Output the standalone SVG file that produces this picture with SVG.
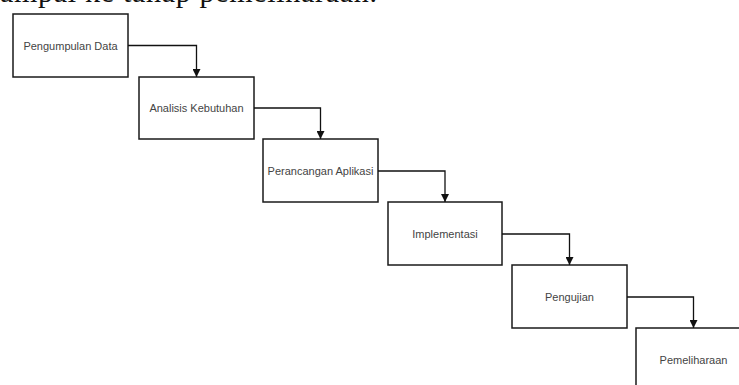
<svg xmlns="http://www.w3.org/2000/svg" width="739" height="385" viewBox="0 0 739 385">
<style>
.box{fill:#fff;stroke:#1a1a1a;stroke-width:1.5}
.lbl{font-family:"Liberation Sans",Arial,sans-serif;font-size:11px;fill:#444;text-anchor:middle;dominant-baseline:central}
.edge{fill:none;stroke:#111;stroke-width:1.3}
.page{font-family:"Liberation Serif","Times New Roman",serif;font-size:30px;fill:#111}
</style>
<defs>
<marker id="ah" viewBox="0 0 10 10" refX="10" refY="5" markerWidth="8" markerHeight="8" markerUnits="userSpaceOnUse" orient="auto">
<path d="M0,0 L10,5 L0,10 Z" fill="#111"/>
</marker>
</defs>
<rect width="739" height="385" fill="#fff"/>
<text class="page" x="0" y="1.5" textLength="377" lengthAdjust="spacing">ampai ke tahap pemeliharaan.</text>
<g id="n1"><rect class="box" x="13" y="14" width="115" height="63"/><text class="lbl" x="70.5" y="45.5">Pengumpulan Data</text></g>
<g id="n2"><rect class="box" x="139" y="77" width="115" height="62"/><text class="lbl" x="196.5" y="108">Analisis Kebutuhan</text></g>
<g id="n3"><rect class="box" x="263" y="139" width="115" height="63"/><text class="lbl" x="320.5" y="171">Perancangan Aplikasi</text></g>
<g id="n4"><rect class="box" x="388" y="202" width="114" height="63"/><text class="lbl" x="445" y="233.5">Implementasi</text></g>
<g id="n5"><rect class="box" x="512" y="265" width="115" height="63"/><text class="lbl" x="569.5" y="296.5">Pengujian</text></g>
<g id="n6"><rect class="box" x="636" y="328" width="115" height="63"/><text class="lbl" x="693.5" y="359.5">Pemeliharaan</text></g>
<g id="edges">
<path class="edge" marker-end="url(#ah)" d="M128,45.5 H196.5 V77"/>
<path class="edge" marker-end="url(#ah)" d="M254,108 H320.5 V139"/>
<path class="edge" marker-end="url(#ah)" d="M378,171 H445 V202"/>
<path class="edge" marker-end="url(#ah)" d="M502,234 H569.5 V265"/>
<path class="edge" marker-end="url(#ah)" d="M627,297 H693.5 V328"/>
</g>
</svg>
